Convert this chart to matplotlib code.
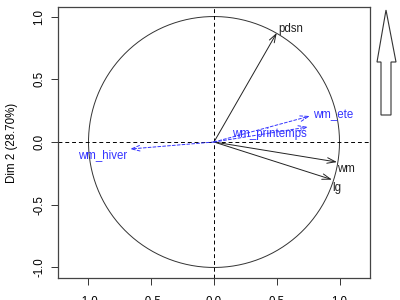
"""
PCA variables factor map (circle of correlations), cropped view
"""

import numpy as np
import matplotlib
matplotlib.use("Agg")
from matplotlib import pyplot as plt
from matplotlib.patches import Polygon

plt.rcParams["font.family"] = ["Liberation Sans", "DejaVu Sans"]

# Data: coordinates of the variables on Dim 1 / Dim 2
var_names = ["pdsn", "wm", "lg"]
var_x = [0.50, 0.98, 0.94]
var_y = [0.87, -0.16, -0.30]

# supplementary variables (blue, dashed)
sup_names = ["wm_ete", "wm_printemps", "wm_hiver"]
sup_x = [0.765, 0.75, -0.67]
sup_y = [0.207, 0.12, -0.056]

ylabel = "Dim 2 (28.70%)"
ticks = [-1.0, -0.5, 0.0, 0.5, 1.0]

# label offsets in points (dx, dy, ha)
label_style = {
    "pdsn": (1, 3, "left"),
    "wm": (0, -5, "left"),
    "lg": (0, -6, "left"),
    "wm_ete": (2, 1, "left"),
    "wm_printemps": (-55, -5, "left"),
    "wm_hiver": (-2, -4, "right"),
}

fig = plt.figure(figsize=(4, 3), dpi=100)
ax = fig.add_axes([0.145, 0.0733, 0.78, 0.9034])
ax.set_xlim(-1.243, 1.243)
ax.set_ylim(-1.084, 1.076)

# circle
t = np.linspace(0, 2 * np.pi, 400)
ax.plot(np.cos(t), np.sin(t), color="#333333", lw=0.7)

# axes through origin
ax.axhline(0, color="black", lw=0.7, ls=(0, (4, 3)))
ax.axvline(0, color="black", lw=0.7, ls=(0, (4, 3)))


def draw_var(name, x, y, color, ls):
    ax.annotate("", xy=(x, y), xytext=(0, 0),
                arrowprops=dict(arrowstyle="->,head_length=0.6,head_width=0.2",
                                color=color, lw=0.7, ls=ls,
                                shrinkA=0, shrinkB=0))
    dx, dy, ha = label_style[name]
    ax.annotate(name, xy=(x, y), xytext=(dx, dy), textcoords="offset points",
                ha=ha, va="center", fontsize=8.3, color=color)


for n, x, y in zip(var_names, var_x, var_y):
    draw_var(n, x, y, "#222222", "-")
for n, x, y in zip(sup_names, sup_x, sup_y):
    draw_var(n, x, y, "#3333ff", (0, (3, 2)))

ax.set_xticks(ticks)
ax.set_yticks(ticks)
ax.set_xticklabels([f"{v:.1f}" for v in ticks])
ax.set_yticklabels([f"{v:.1f}" for v in ticks], rotation=90, va="center")
ax.tick_params(labelsize=8.3, length=5, width=0.7, color="#333333")
ax.tick_params(axis="x", pad=8)
ax.tick_params(axis="y", pad=4)
ax.set_ylabel(ylabel, fontsize=8.3, labelpad=11)
for s in ax.spines.values():
    s.set_linewidth(0.9)
    s.set_color("#444444")

# north arrow outside the plot (figure pixel coords)
W, H = 400, 300
arrow_px = [(386, 10), (396, 62), (391, 62), (391, 115), (381, 115),
            (381, 62), (377, 62)]
arrow = Polygon([(px / W, 1 - py / H) for px, py in arrow_px], closed=True,
                transform=fig.transFigure, facecolor="white",
                edgecolor="#333333", lw=0.8)
fig.patches.append(arrow)

fig.savefig("out.png", dpi=100)
